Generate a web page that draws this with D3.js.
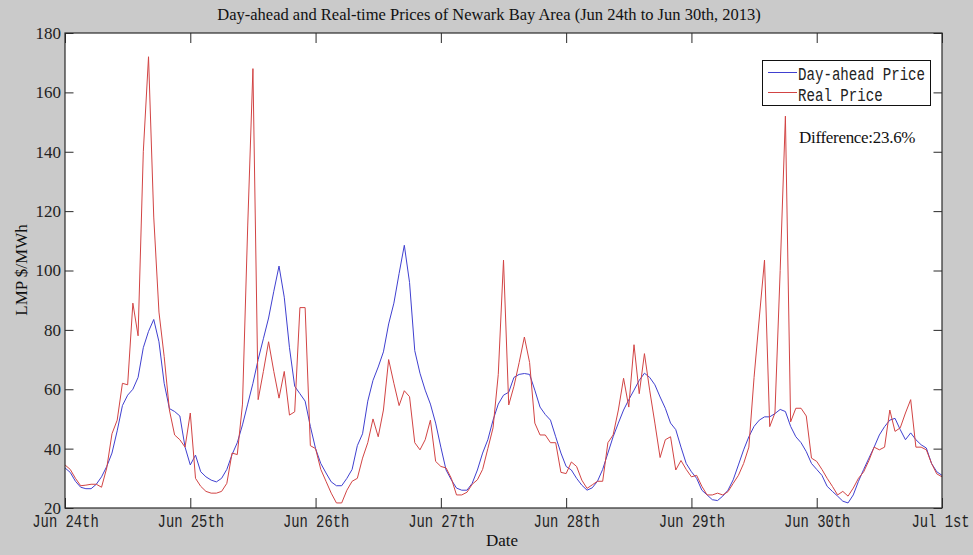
<!DOCTYPE html>
<html>
<head>
<meta charset="utf-8">
<script src="https://cdn.jsdelivr.net/npm/d3@7"></script>
<style>
  html, body { margin: 0; padding: 0; background: #cacaca; }
  svg { display: block; }
</style>
</head>
<body>
<svg id="chart" width="973" height="555"></svg>
<script>
// Hourly LMP ($/MWh), Jun 24 00:00 through Jul 1 00:00 (169 points)
const dayAheadPrice = [
  33.5, 32, 29, 27, 26.5, 26.5, 28, 30.5, 34, 38.5, 46, 54.5, 58, 60, 64, 74, 79.5, 83.5, 76, 62, 53.5, 52.5, 51, 40.5,
  34.5, 37.8, 32.2, 30.5, 29.4, 28.8, 30, 33, 38, 42, 48, 55, 62, 70, 77, 84, 93, 101.5, 91, 74, 61, 58.5, 56, 47.5,
  40, 35, 31.8, 28.8, 27.5, 27.5, 30, 33, 41, 45, 56, 63, 67.5, 72.6, 82, 89, 99, 108.5, 96, 73, 65.4, 59.7, 55, 48.6,
  40.5, 32.8, 29.5, 26.7, 26, 26, 28.3, 32.8, 38.5, 43, 49.6, 55, 58, 59, 64, 65, 65.3, 65, 59.7, 54, 51.5, 49.6, 44, 38.5,
  34, 32.8, 30, 27.7, 26, 26.8, 29, 33, 38.5, 44, 48.6, 53, 56.5, 59.7, 63, 65.4, 64, 61.5, 57.4, 53.6, 48.6, 46.4, 40.5, 35,
  32.2, 30, 26, 24.4, 22.8, 22.5, 24, 26, 29.5, 34.5, 39.6, 44, 47.5, 49.6, 50.7, 50.7, 51.8, 53.2, 52.5, 47.5, 44, 42, 39, 35,
  33, 31, 27.3, 25.6, 24, 22.3, 21.7, 24.4, 29, 33, 36.8, 40.5, 44.6, 47.4, 49.6, 50.2, 46.4, 43, 45.3, 43, 41.3, 40.2, 35, 32.2, 31
];
const realPrice = [
  34.5, 33, 30, 27.5, 27.7, 28, 28, 27, 33.5, 45, 49.6, 62, 61.5, 89, 78, 140, 172, 118, 86, 71, 53, 44.6, 43, 40.5,
  52, 30, 27.3, 25.6, 25, 25, 25.6, 28.3, 38.5, 38, 55, 115, 168, 56.5, 66, 76, 66, 57, 66, 51.3, 52.4, 87.5, 87.5, 41,
  40, 33, 29, 25, 21.7, 21.7, 26, 29, 30, 36.8, 42, 50, 44, 53, 70, 62, 54.5, 59.5, 57.5, 42, 39.6, 43, 49.6, 35.7,
  34, 33.5, 30, 24.4, 24.4, 25.3, 28, 29.5, 33, 40, 47, 65, 103.5, 54.7, 61, 69, 77.6, 69, 48.6, 44.6, 44.6, 42, 42, 32,
  31.6, 35.5, 34, 29.4, 26.6, 27.8, 29, 29, 42, 44.6, 53, 63.7, 54, 75, 58.5, 72, 59.7, 48.6, 37, 43, 44, 32.8, 36, 33,
  30.5, 31, 27.3, 24.4, 24.4, 25, 24.4, 25.5, 28.3, 31, 35, 40.5, 64, 84, 103.5, 47.4, 52, 100, 152, 49, 53.6, 53.6, 51, 36.8,
  35.7, 33, 30, 27.3, 24.4, 25.6, 24, 26.7, 30, 32.2, 36, 40.5, 39.6, 40.5, 53, 45.8, 47, 52, 56.5, 40.5, 40.5, 39.6, 35, 31.5, 30.5
];
const dayTickHours = [0, 24, 48, 72, 96, 120, 144, 168];
const dayTickLabels = ["Jun 24th", "Jun 25th", "Jun 26th", "Jun 27th", "Jun 28th", "Jun 29th", "Jun 30th", "Jul 1st"];
const priceTicks = [20, 40, 60, 80, 100, 120, 140, 160, 180];
const seriesNames = ["Day-ahead Price", "Real Price"];
const titleText = "Day-ahead and Real-time Prices of Newark Bay Area (Jun 24th to Jun 30th, 2013)";
const xLabelText = "Date";
const yLabelText = "LMP $/MWh";
const noteText = "Difference:23.6%";

const svg = d3.select("#chart");
const plotLeft = 65, plotRight = 942, plotTop = 33, plotBottom = 508;
const serif = "'Liberation Serif', 'Times New Roman', serif";
const mono = "'Liberation Mono', 'Courier New', monospace";
const axisColor = "#2a2a2a";
const blue = "#4040d0";
const red = "#d24444";

const x = d3.scaleLinear().domain([0, 168]).range([plotLeft, plotRight]);
const y = d3.scaleLinear().domain([20, 180]).range([plotBottom, plotTop]);

// plot area
svg.append("rect").attr("x", plotLeft).attr("y", plotTop)
  .attr("width", plotRight - plotLeft).attr("height", plotBottom - plotTop).attr("fill", "#ffffff");

// series
const line = d3.line().x((d, i) => x(i)).y(d => y(d));
svg.append("path").datum(dayAheadPrice).attr("d", line)
  .attr("fill", "none").attr("stroke", blue).attr("stroke-width", 1).attr("stroke-linejoin", "round");
svg.append("path").datum(realPrice).attr("d", line)
  .attr("fill", "none").attr("stroke", red).attr("stroke-width", 1).attr("stroke-linejoin", "round");

// axes with inward ticks on all four sides
function styleAxis(g) {
  g.selectAll(".domain").remove();
  g.selectAll(".tick line").attr("stroke", axisColor).attr("stroke-width", 1);
}
const xBottom = svg.append("g").attr("transform", `translate(0,${plotBottom})`)
  .call(d3.axisBottom(x).tickValues(dayTickHours).tickSize(-10)
    .tickFormat((d, i) => dayTickLabels[i]));
styleAxis(xBottom);
xBottom.selectAll(".tick text")
  .attr("font-family", mono).attr("font-size", 18).attr("fill", "#222")
  .attr("dy", null).attr("y", 19)
  .each(function(d, i) {
    const n = dayTickLabels[i].length;
    d3.select(this).attr("textLength", n * 8.3).attr("lengthAdjust", "spacingAndGlyphs");
  });
// keep the last date label inside the figure edge
xBottom.selectAll(".tick").filter((d, i) => i === dayTickHours.length - 1)
  .select("text").attr("x", -2);
const xTop = svg.append("g").attr("transform", `translate(0,${plotTop})`)
  .call(d3.axisTop(x).tickValues(dayTickHours).tickSize(-10).tickFormat(""));
styleAxis(xTop);

const yLeft = svg.append("g").attr("transform", `translate(${plotLeft},0)`)
  .call(d3.axisLeft(y).tickValues(priceTicks).tickSize(-8.5).tickPadding(4));
styleAxis(yLeft);
yLeft.selectAll(".tick text").attr("font-family", serif).attr("font-size", 17).attr("fill", "#222");
const yRight = svg.append("g").attr("transform", `translate(${plotRight},0)`)
  .call(d3.axisRight(y).tickValues(priceTicks).tickSize(-8.5).tickFormat(""));
styleAxis(yRight);

// frame
svg.append("rect").attr("x", plotLeft).attr("y", plotTop)
  .attr("width", plotRight - plotLeft).attr("height", plotBottom - plotTop)
  .attr("fill", "none").attr("stroke", axisColor).attr("stroke-width", 1.2);

// titles
svg.append("text").attr("x", 489).attr("y", 20).attr("text-anchor", "middle")
  .attr("font-family", serif).attr("font-size", 16.5).attr("fill", "#111").text(titleText);
svg.append("text").attr("x", 502).attr("y", 546).attr("text-anchor", "middle")
  .attr("font-family", serif).attr("font-size", 17).attr("fill", "#111").text(xLabelText);
svg.append("text").attr("transform", "translate(27,270) rotate(-90)").attr("text-anchor", "middle")
  .attr("font-family", serif).attr("font-size", 17).attr("fill", "#111").text(yLabelText);

// legend
const legend = svg.append("g");
legend.append("rect").attr("x", 762.5).attr("y", 60.5).attr("width", 168).attr("height", 45)
  .attr("fill", "#fff").attr("stroke", "#111").attr("stroke-width", 1);
const legendRows = [
  { name: seriesNames[0], color: blue, ly: 72.5, ty: 79.5 },
  { name: seriesNames[1], color: red, ly: 92.5, ty: 100.5 }
];
legendRows.forEach(r => {
  legend.append("line").attr("x1", 768).attr("x2", 797).attr("y1", r.ly).attr("y2", r.ly)
    .attr("stroke", r.color).attr("stroke-width", 1);
  legend.append("text").attr("x", 798).attr("y", r.ty)
    .attr("font-family", mono).attr("font-size", 18).attr("fill", "#222")
    .attr("textLength", r.name.length * 8.47).attr("lengthAdjust", "spacingAndGlyphs")
    .text(r.name);
});

// annotation
svg.append("text").attr("x", 799).attr("y", 143).attr("font-family", serif)
  .attr("font-size", 17).attr("fill", "#111").attr("letter-spacing", -0.3).text(noteText);
</script>
</body>
</html>
